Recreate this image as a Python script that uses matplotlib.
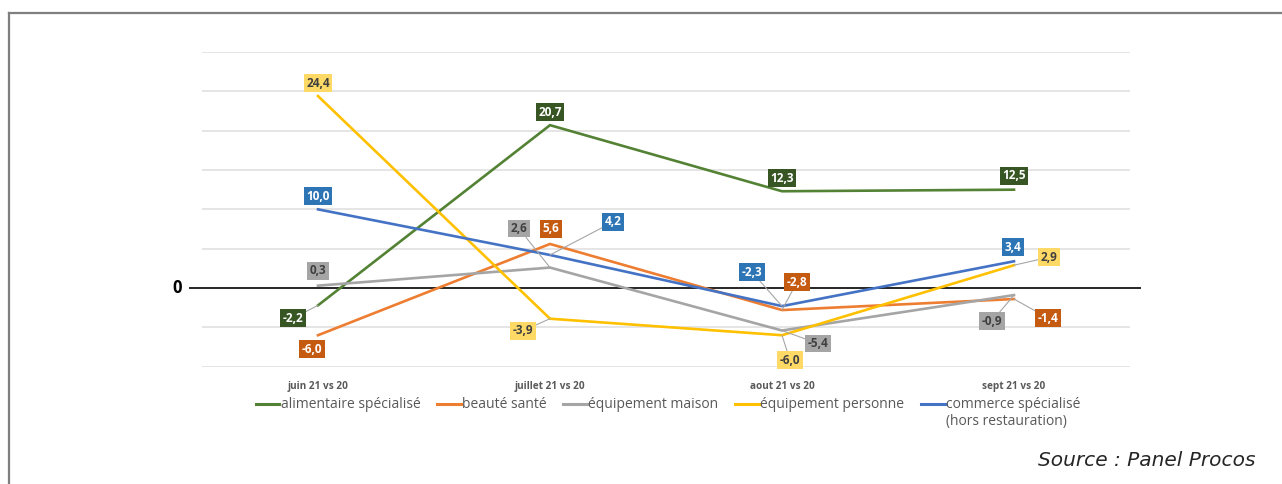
import matplotlib
matplotlib.use("Agg")
import matplotlib.pyplot as plt
from matplotlib.lines import Line2D

plt.rcParams['font.family'] = ['Open Sans', 'DejaVu Sans']

# ---- data -------------------------------------------------------------
categories = ["juin 21 vs 20", "juillet 21 vs 20", "aout 21 vs 20", "sept 21 vs 20"]
series_names = ["alimentaire spécialisé", "beauté santé", "équipement maison",
                "équipement personne", "commerce spécialisé\n(hors restauration)"]
alimentaire = [-2.2, 20.7, 12.3, 12.5]
beaute = [-6.0, 5.6, -2.8, -1.4]
equip_maison = [0.3, 2.6, -5.4, -0.9]
equip_personne = [24.4, -3.9, -6.0, 2.9]
commerce = [10.0, 4.2, -2.3, 3.4]
values = [alimentaire, beaute, equip_maison, equip_personne, commerce]

# ---- styles -----------------------------------------------------------
line_colors = ["#548235", "#ED7D31", "#A5A5A5", "#FFC000", "#4472C4"]
box_colors = ["#375623", "#C55A11", "#A5A5A5", "#FFD966", "#2E75B6"]
text_colors = ["white", "white", "#404040", "#404040", "white"]
# label offsets in pixels (dx, dy) from the point, and whether a leader is drawn
label_offsets = [
    [(-25, -13, True), (0, 13, False), (0, 13, False), (0, 14, False)],
    [(-6, -14, False), (1, 15, False), (15, 28, True), (34, -19, True)],
    [(0, 15, False), (-31, 39, True), (36, -13, True), (-22, -26, True)],
    [(0, 13, False), (-27, -12, True), (8, -25, True), (35, 8, True)],
    [(0, 13, False), (63, 33, True), (-30, 34, True), (-1, 14, False)],
]

W, H = 1282, 484
fig = plt.figure(figsize=(W / 100, H / 100), dpi=100)
ax = fig.add_axes([202 / W, 1 - 366.7 / H, 928 / W, 314.7 / H])

x = list(range(len(categories)))
ax.set_xlim(-0.5, len(categories) - 0.5)
ax.set_ylim(-10, 30)
ax.set_yticks([-10, -5, 5, 10, 15, 20, 25, 30])
ax.grid(axis='y', color='#E0E0E0', lw=1.2)
ax.set_axisbelow(True)
for s in ax.spines.values():
    s.set_visible(False)
ax.tick_params(axis='y', left=False, labelleft=False)
ax.tick_params(axis='x', bottom=False, pad=7)
ax.set_xticks(x)
ax.set_xticklabels(categories, fontsize=7.2, fontweight='bold', color='#595959')

# zero axis line, extending slightly beyond the plot area
ax.axhline(0, xmin=-12 / 928, xmax=1 + 10 / 928, color='#262626', lw=1.4,
           clip_on=False, zorder=2)
ax.text(-0.5 - 25 / 232, 0, "0", ha='center', va='center', fontsize=12,
        fontweight='bold', color='black', transform=ax.transData)

handles = []
for vals, lc, name in zip(values, line_colors, series_names):
    h, = ax.plot(x, vals, color=lc, lw=1.9, zorder=3, solid_joinstyle='miter')
    handles.append(h)

for si, vals in enumerate(values):
    for xi, v in zip(x, vals):
        dx, dy, leader = label_offsets[si][xi]
        arrow = None
        if leader:
            arrow = dict(arrowstyle='-', color='#A6A6A6', lw=0.8,
                         shrinkA=0, shrinkB=0)
        ax.annotate(f"{v:.1f}".replace('.', ','), xy=(xi, v),
                    xytext=(dx, dy), textcoords='offset pixels',
                    ha='center', va='center', fontsize=8.5, fontweight='bold',
                    color=text_colors[si], zorder=5,
                    bbox=dict(boxstyle='square,pad=0.2', fc=box_colors[si],
                              ec='none'),
                    arrowprops=arrow, annotation_clip=False)

# legend
leg = fig.legend(handles, [n.split("\n")[0] for n in series_names], ncol=5,
                 loc='center', bbox_to_anchor=(668 / W, 1 - 405 / H),
                 frameon=False, fontsize=10, handlelength=1.7,
                 handletextpad=0.1, columnspacing=1.2, labelcolor='#595959')
for lh in leg.get_lines():
    lh.set_linewidth(2.2)
fig.canvas.draw()
last = leg.get_texts()[-1].get_window_extent()
fig.text(last.x0 / W, (last.y0 - 9) / H, series_names[-1].split("\n")[1],
         ha='left', va='center', fontsize=10, color='#595959')

# source note
fig.text(1255 / W, 1 - 460 / H, "Source : Panel Procos", ha='right',
         va='center', fontsize=14.5, style='italic', color='#262626',
         family=['DejaVu Sans'])

# frame of the panel
fig.add_artist(Line2D([9 / W, 9 / W], [0, 1 - 13 / H], color='#7F7F7F', lw=1.6))
fig.add_artist(Line2D([9 / W, 1], [1 - 13 / H, 1 - 13 / H], color='#7F7F7F', lw=1.6))

fig.savefig("out.png", dpi=100)
